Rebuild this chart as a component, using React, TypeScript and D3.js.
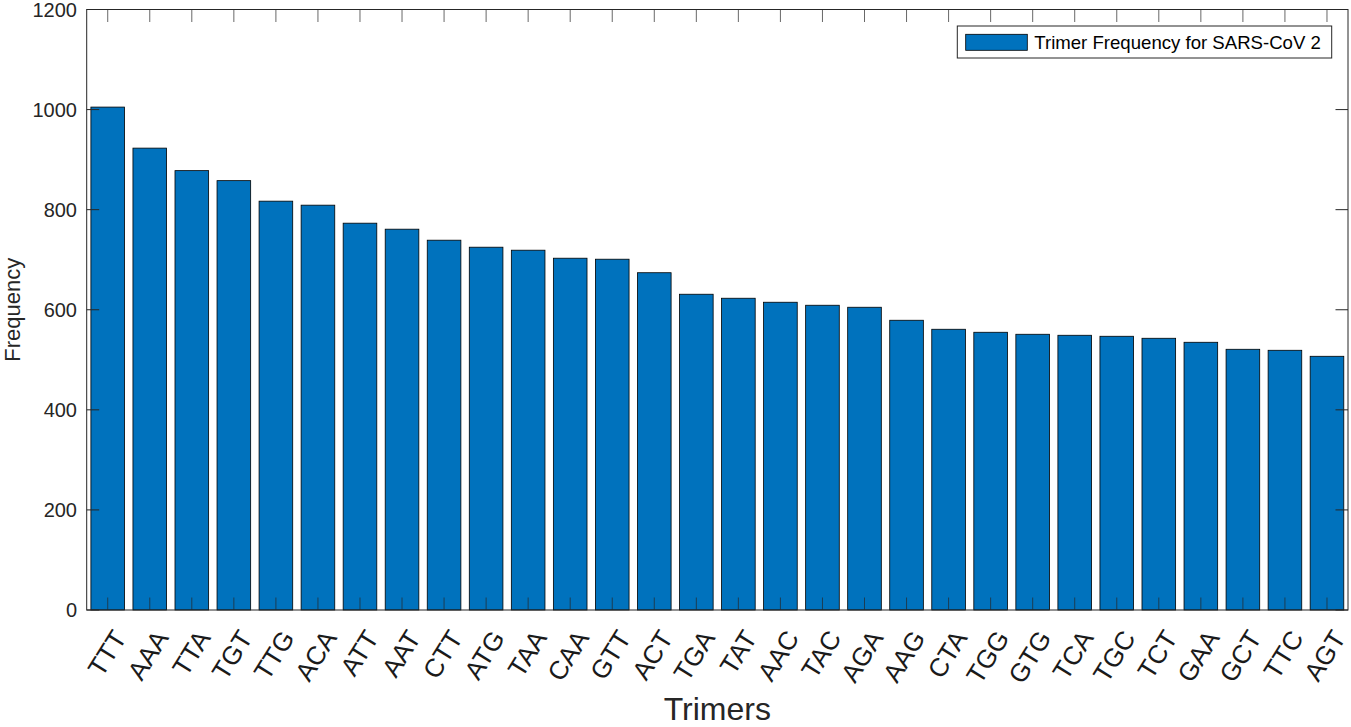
import React from "react";
import * as d3 from "d3";

// trimers sorted by frequency (SARS-CoV 2)
const trimers = [
  "TTT", "AAA", "TTA", "TGT", "TTG", "ACA", "ATT", "AAT", "CTT", "ATG",
  "TAA", "CAA", "GTT", "ACT", "TGA", "TAT", "AAC", "TAC", "AGA", "AAG",
  "CTA", "TGG", "GTG", "TCA", "TGC", "TCT", "GAA", "GCT", "TTC", "AGT",
];
const frequencies = [
  1005, 923, 878, 858, 817, 809, 773, 761, 739, 725,
  719, 703, 701, 674, 631, 623, 615, 609, 605, 579,
  561, 555, 551, 549, 547, 543, 535, 521, 519, 507,
];
const yTicks = [0, 200, 400, 600, 800, 1000, 1200];
const legendLabel = "Trimer Frequency for SARS-CoV 2";

const W = 1351;
const H = 727;
const left = 86.7;
const right = 1348;
const top = 9.5;
const bottom = 610;
const tickLen = 12.5;
const axisColor = "#262626";
const barColor = "#0072BD";
const font = "'Liberation Sans', Arial, Helvetica, sans-serif";

export default function App() {
  const x = d3
    .scaleBand<string>()
    .domain(trimers)
    .range([left, right])
    .paddingInner(0.2)
    .paddingOuter(0.1);
  const y = d3.scaleLinear().domain([0, 1200]).range([bottom, top]);
  const cx = (t: string) => (x(t) as number) + x.bandwidth() / 2;

  return (
    <svg
      width={W}
      height={H}
      style={{ position: "absolute", left: 0, top: 0, background: "#fff" }}
      fontFamily={font}
    >
      {/* bars */}
      {trimers.map((t, i) => (
        <rect
          key={t}
          x={x(t)}
          y={y(frequencies[i])}
          width={x.bandwidth()}
          height={y(0) - y(frequencies[i])}
          fill={barColor}
          stroke="#000"
          strokeWidth={0.8}
        />
      ))}

      {/* x ticks, bottom and top */}
      {trimers.map((t) => (
        <g key={"xt" + t} stroke={axisColor} strokeWidth={0.7}>
          <line x1={cx(t)} x2={cx(t)} y1={bottom} y2={bottom - tickLen} />
          <line x1={cx(t)} x2={cx(t)} y1={top} y2={top + tickLen} />
        </g>
      ))}

      {/* y ticks, left and right */}
      {yTicks.map((v) => (
        <g key={"yt" + v} stroke={axisColor} strokeWidth={1}>
          <line x1={left} x2={left + tickLen} y1={y(v)} y2={y(v)} />
          <line x1={right} x2={right - tickLen} y1={y(v)} y2={y(v)} />
        </g>
      ))}

      {/* box */}
      <rect
        x={left}
        y={top}
        width={right - left}
        height={bottom - top}
        fill="none"
        stroke={axisColor}
        strokeWidth={1}
      />

      {/* y tick labels */}
      {yTicks.map((v) => (
        <text
          key={"yl" + v}
          x={77}
          y={y(v)}
          textAnchor="end"
          dominantBaseline="central"
          fontSize={20}
          fill={axisColor}
        >
          {v}
        </text>
      ))}

      {/* x tick labels, rotated */}
      {trimers.map((t) => (
        <text
          key={"xl" + t}
          transform={`translate(${cx(t) + 12},${bottom + 23}) rotate(-58)`}
          textAnchor="end"
          dominantBaseline="central"
          fontSize={26}
          fill="#1a1a1a"
        >
          {t}
        </text>
      ))}

      {/* axis titles */}
      <text
        x={(left + right) / 2}
        y={720}
        textAnchor="middle"
        fontSize={32}
        fill={axisColor}
      >
        Trimers
      </text>
      <text
        transform={`translate(20,${(top + bottom) / 2}) rotate(-90)`}
        textAnchor="middle"
        fontSize={22}
        fill={axisColor}
      >
        Frequency
      </text>

      {/* legend */}
      <g>
        <rect x={957.3} y={26} width={374.4} height={32} fill="#fff" stroke={axisColor} strokeWidth={1} />
        <rect x={965.7} y={34.3} width={61.6} height={16} fill={barColor} stroke="#000" strokeWidth={0.8} />
        <text x={1034.3} y={42.5} dominantBaseline="central" fontSize={18.6} fill="#000">
          {legendLabel}
        </text>
      </g>
    </svg>
  );
}
